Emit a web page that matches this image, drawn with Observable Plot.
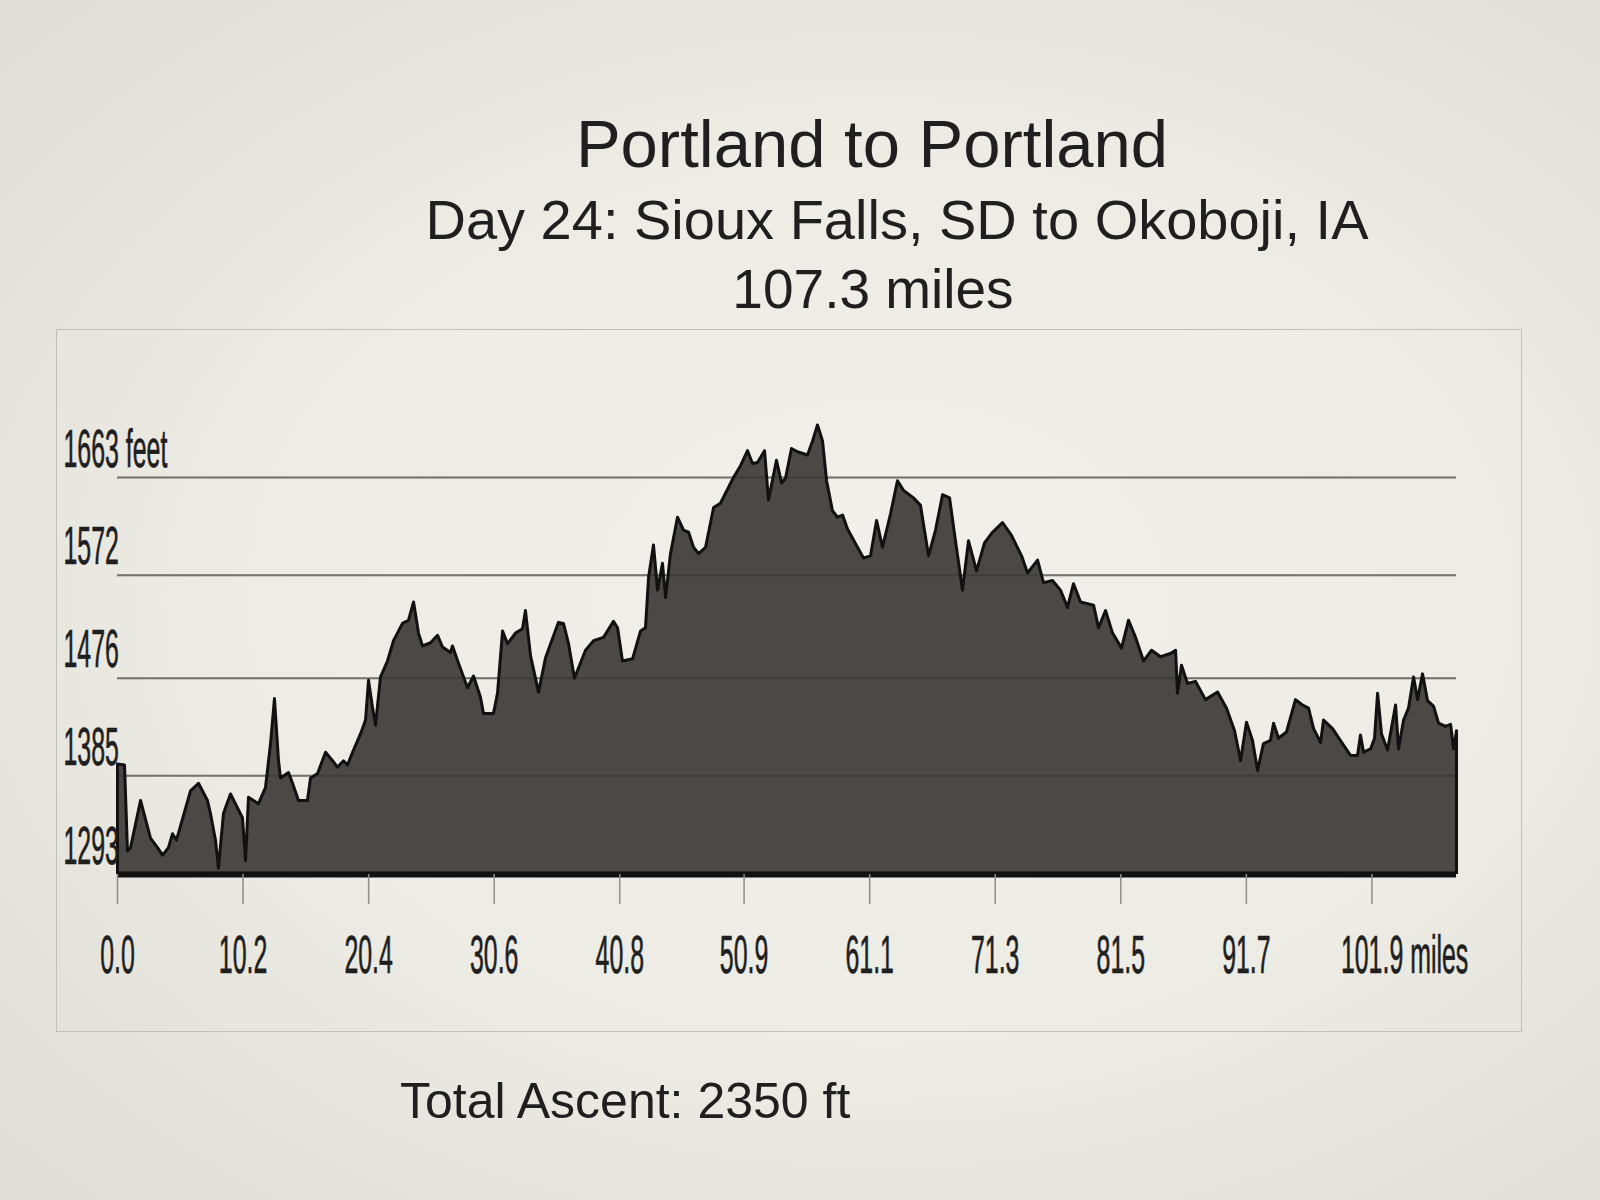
<!DOCTYPE html>
<html>
<head>
<meta charset="utf-8">
<script src="https://cdn.jsdelivr.net/npm/d3@7"></script>
<script src="https://cdn.jsdelivr.net/npm/@observablehq/plot@0.6"></script>
<style>
html, body { margin: 0; padding: 0; }
body {
  width: 1600px; height: 1200px; position: relative; overflow: hidden;
  background: radial-gradient(ellipse 75% 70% at 55% 50%, #f1f0ea 0%, #ecebe4 55%, #dfddd5 100%);
  font-family: "Liberation Sans", Arial, sans-serif; color: #1f1f1f;
}
.t { position: absolute; white-space: nowrap; line-height: 1; }
.c { transform: translateX(-50%); }
#box { position: absolute; left: 56px; top: 329px; width: 1464px; height: 701px; border: 1.5px solid #c2c0b9; }
#chart { position: absolute; left: 0; top: 329px; }
</style>
</head>
<body>
<div id="box"></div>
<div class="t c" id="title" style="left:872px;top:110px;font-size:67px"></div>
<div class="t c" id="subtitle" style="left:897px;top:192px;font-size:56px"></div>
<div class="t c" id="distance" style="left:873px;top:262px;font-size:55px"></div>
<div class="t" id="caption" style="left:400px;top:1076px;font-size:50px"></div>
<div id="chart"></div>
<script>
const titleText = "Portland to Portland";
const subtitleText = "Day 24: Sioux Falls, SD to Okoboji, IA";
const distanceText = "107.3 miles";
const captionText = "Total Ascent: 2350 ft";

const yTicks = [1293, 1385, 1476, 1572, 1663];
const yLabels = ["1293", "1385", "1476", "1572", "1663 feet"];
const xTicks = [0, 10.2, 20.4, 30.6, 40.8, 50.9, 61.1, 71.3, 81.5, 91.7, 101.9];

const miles = [0, 0.57, 0.81, 1.06, 1.87, 2.68, 3.25, 3.66, 4.14, 4.47, 4.79, 5.93, 6.58, 7.31, 7.55, 7.96, 8.2, 8.61, 9.18, 9.75,
  10.15, 10.4, 10.64, 11.05, 11.45, 12.02, 12.43, 12.75, 13.08, 13.24, 13.89, 14.22, 14.7, 15.43, 15.68, 16.25, 16.9, 17.47, 17.87, 18.36,
  18.68, 19.17, 19.74, 20.15, 20.39, 20.71, 20.96, 21.36, 21.93, 22.42, 23.15, 23.64, 24.05, 24.45, 24.78, 25.43, 26.0, 26.4, 27.05, 27.21,
  27.7, 28.43, 28.92, 29.49, 29.73, 30.54, 30.87, 31.28, 31.68, 32.33, 32.9, 33.14, 33.55, 34.2, 34.77, 35.82, 36.23, 36.64, 37.12, 38.02,
  38.67, 39.48, 40.29, 40.62, 41.02, 41.84, 42.49, 42.89, 43.14, 43.54, 43.87, 44.27, 44.52, 44.92, 45.49, 45.98, 46.39, 46.79, 47.2, 47.77,
  48.42, 48.98, 50.04, 50.61, 51.18, 51.58, 51.99, 52.56, 52.88, 53.53, 53.94, 54.26, 54.75, 55.24, 56.05, 56.46, 56.86, 57.27, 57.6, 58.08,
  58.49, 58.9, 59.3, 60.11, 60.6, 61.17, 61.66, 62.14, 62.79, 63.36, 63.85, 64.66, 65.23, 65.88, 66.45, 67.02, 67.59, 68.07, 68.64, 69.13,
  69.78, 70.43, 71.08, 71.89, 72.62, 73.44, 73.92, 74.74, 75.22, 75.95, 76.6, 77.17, 77.66, 78.23, 79.29, 79.69, 80.26, 80.83, 81.56, 82.13,
  82.7, 83.35, 84.0, 84.73, 85.54, 85.95, 86.11, 86.43, 86.92, 87.57, 88.38, 89.36, 90.09, 90.74, 91.23, 91.71, 92.2, 92.61, 93.09, 93.66,
  93.91, 94.31, 94.96, 95.69, 96.26, 96.75, 97.16, 97.73, 97.97, 98.7, 99.51, 100.16, 100.73, 100.97, 101.22, 101.79, 102.11, 102.36, 102.68, 103.17,
  103.82, 104.06, 104.47, 104.87, 105.28, 105.61, 106.01, 106.42, 106.9, 107.31, 107.88, 108.29, 108.53, 108.77];

const elevation = [1396, 1395, 1315, 1318, 1362, 1327, 1318, 1311, 1318, 1331, 1325, 1371, 1378, 1362, 1350, 1325, 1299, 1350, 1368, 1355,
  1346, 1306, 1365, 1362, 1359, 1374, 1415, 1457, 1399, 1383, 1388, 1378, 1362, 1362, 1383, 1387, 1407, 1399, 1393, 1399,
  1395, 1409, 1424, 1437, 1474, 1449, 1432, 1477, 1492, 1511, 1527, 1530, 1547, 1518, 1506, 1509, 1516, 1505, 1500, 1506,
  1490, 1467, 1478, 1458, 1443, 1443, 1462, 1520, 1508, 1518, 1522, 1539, 1497, 1463, 1495, 1528, 1527, 1508, 1476, 1502,
  1511, 1514, 1529, 1523, 1492, 1494, 1520, 1523, 1570, 1600, 1558, 1583, 1551, 1592, 1626, 1614, 1612, 1598, 1592, 1598,
  1635, 1639, 1663, 1674, 1688, 1676, 1677, 1688, 1642, 1679, 1658, 1662, 1690, 1687, 1684, 1697, 1712, 1697, 1660, 1632,
  1626, 1628, 1615, 1598, 1588, 1590, 1623, 1598, 1629, 1660, 1651, 1644, 1637, 1590, 1614, 1647, 1644, 1604, 1558, 1604,
  1576, 1602, 1612, 1621, 1609, 1590, 1574, 1586, 1565, 1567, 1558, 1542, 1564, 1547, 1544, 1523, 1539, 1518, 1504, 1530,
  1514, 1492, 1502, 1496, 1499, 1502, 1462, 1488, 1471, 1473, 1456, 1463, 1448, 1427, 1399, 1435, 1418, 1390, 1415, 1418,
  1434, 1420, 1426, 1456, 1451, 1448, 1429, 1416, 1437, 1429, 1415, 1404, 1404, 1423, 1407, 1410, 1420, 1462, 1424, 1409,
  1451, 1410, 1437, 1448, 1477, 1456, 1480, 1455, 1450, 1434, 1431, 1433, 1410, 1427];

document.getElementById("title").textContent = titleText;
document.getElementById("subtitle").textContent = subtitleText;
document.getElementById("distance").textContent = distanceText;
document.getElementById("caption").textContent = captionText;

const data = miles.map((m, i) => ({mile: m, elev: elevation[i]}));
const base = yTicks[0];
const start = miles[0];
const gridValues = yTicks.filter(v => v > base);
const ends = [data[0], data[data.length - 1]];

const labelStyle = {fontSize: 53, fill: "#1f1f1f", stroke: "#1f1f1f", strokeWidth: 0.7, lineAnchor: "bottom"};

const chart = Plot.plot({
  width: 1600,
  height: 702,
  marginLeft: 117,
  marginRight: 144,
  marginTop: 148,
  marginBottom: 157,
  x: {domain: [start, miles[miles.length - 1]], axis: null},
  y: {domain: [base, yTicks[yTicks.length - 1]], axis: null},
  style: {background: "transparent", fontFamily: "'Liberation Sans', Arial, sans-serif", color: "#1f1f1f", overflow: "visible"},
  marks: [
    Plot.ruleY(gridValues, {y: d => d, stroke: "#8f8d88", strokeWidth: 2}),
    Plot.areaY(data, {x: "mile", y1: () => base, y2: "elev", fill: "#4a4945"}),
    Plot.ruleY(gridValues, {y: d => d, stroke: "#111", strokeOpacity: 0.22, strokeWidth: 2}),
    Plot.lineY(data, {x: "mile", y: "elev", stroke: "#111", strokeWidth: 3, strokeLinejoin: "round"}),
    Plot.ruleX(ends, {x: "mile", y1: () => base, y2: "elev", stroke: "#111", strokeWidth: 3}),
    Plot.ruleY([base], {y: d => d, stroke: "#111", strokeWidth: 6}),
    Plot.axisX(xTicks, {tickSize: 30, tickFormat: () => "", stroke: "#8f8d88", strokeWidth: 1.5, label: null}),
    Plot.text(yTicks, {x: () => start, y: d => d, text: (d, i) => yLabels[i], textAnchor: "start",
      dx: -54, dy: -11, ...labelStyle}),
    Plot.text(xTicks.slice(0, -1), {x: d => d, y: () => base, text: d => d.toFixed(1),
      dy: 98, ...labelStyle}),
    Plot.text(xTicks.slice(-1), {x: d => d, y: () => base, text: d => d.toFixed(1) + " miles",
      textAnchor: "start", dx: -31, dy: 98, ...labelStyle})
  ]
});

// condense the tick labels horizontally (only x is scaled, so em-based y offsets stay valid)
d3.select(chart).selectAll('g[aria-label="text"] text').each(function() {
  const x = this.getAttribute("x");
  const t = this.getAttribute("transform") || "";
  let extra = "";
  if (x !== null && x !== "") {
    extra = ` translate(${parseFloat(x) || 0},0)`;
    this.removeAttribute("x");
  }
  this.setAttribute("transform", (t + extra + " scale(0.47,1)").trim());
});

document.getElementById("chart").appendChild(chart);
</script>
</body>
</html>
